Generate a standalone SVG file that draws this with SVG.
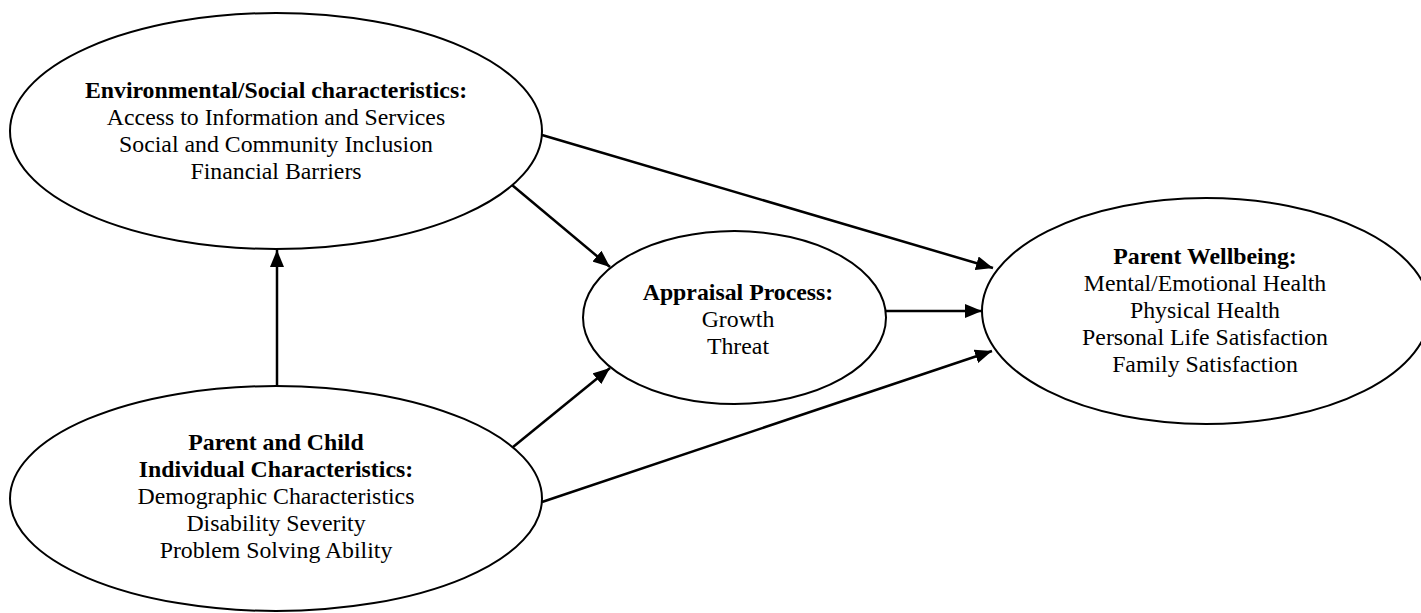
<svg xmlns="http://www.w3.org/2000/svg" width="1421" height="613" viewBox="0 0 1421 613">
<defs>
<style>
.node ellipse{fill:#fff;stroke:#000;stroke-width:2}
text{font-family:"Liberation Serif","Times New Roman",serif;font-size:23.8px;fill:#000;text-anchor:middle}
.b{font-weight:bold}
.conn line{stroke:#000;stroke-width:2.5;marker-end:url(#ah)}
</style>
<marker id="ah" markerUnits="userSpaceOnUse" markerWidth="17" markerHeight="14" refX="17" refY="7" orient="auto">
<path d="M0,0 L17,7 L0,14 z" fill="#000"/>
</marker>
</defs>
<rect width="1421" height="613" fill="#fff"/>
<g id="env" class="node">
<ellipse cx="276" cy="131" rx="266" ry="118"/>
<text x="276" y="98" class="b">Environmental/Social characteristics:</text>
<text x="276" y="125">Access to Information and Services</text>
<text x="276" y="152">Social and Community Inclusion</text>
<text x="276" y="179">Financial Barriers</text>
</g>
<g id="parent" class="node">
<ellipse cx="276" cy="498.5" rx="266" ry="112.5"/>
<text x="276" y="450" class="b">Parent and Child</text>
<text x="276" y="477" class="b">Individual Characteristics:</text>
<text x="276" y="504">Demographic Characteristics</text>
<text x="276" y="531">Disability Severity</text>
<text x="276" y="558">Problem Solving Ability</text>
</g>
<g id="appraisal" class="node">
<ellipse cx="734.5" cy="317.5" rx="151.5" ry="86.5"/>
<text x="738" y="300" class="b">Appraisal Process:</text>
<text x="738" y="327">Growth</text>
<text x="738" y="354">Threat</text>
</g>
<g id="wellbeing" class="node">
<ellipse cx="1206" cy="311" rx="224" ry="113"/>
<text x="1205" y="264" class="b">Parent Wellbeing:</text>
<text x="1205" y="291">Mental/Emotional Health</text>
<text x="1205" y="318">Physical Health</text>
<text x="1205" y="345">Personal Life Satisfaction</text>
<text x="1205" y="372">Family Satisfaction</text>
</g>
<g id="connectors" class="conn">
<line x1="277" y1="386" x2="277" y2="250"/>
<line x1="512" y1="185" x2="610" y2="267"/>
<line x1="513" y1="447" x2="610" y2="368"/>
<line x1="542" y1="135" x2="993" y2="268"/>
<line x1="886" y1="311" x2="982" y2="311"/>
<line x1="542" y1="502" x2="992" y2="351"/>
</g>
</svg>
